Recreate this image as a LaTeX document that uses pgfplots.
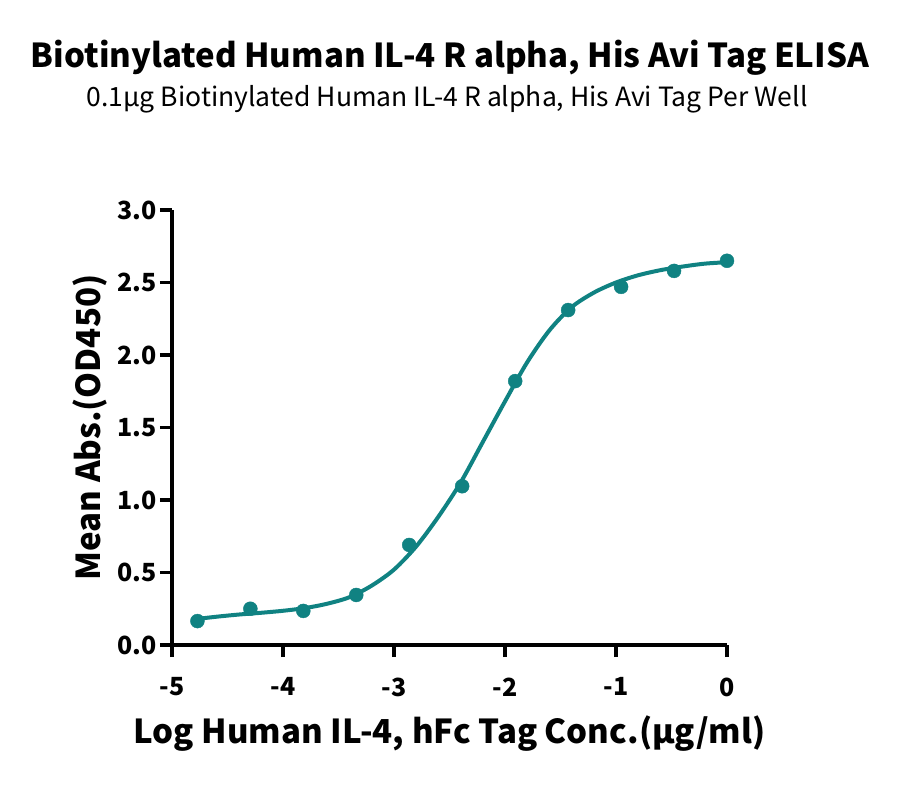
\documentclass[border=0pt]{standalone}
\usepackage{fontspec}
\setmainfont{Noto Sans CJK SC}
\usepackage{pgfplots}
\usepackage{pgfplotstable}
\pgfplotsset{compat=1.18}
\definecolor{tealc}{RGB}{16,130,130}

% measured points (log conc, OD450)
\pgfplotstableread{
x y
-4.771 0.165
-4.294 0.250
-3.817 0.235
-3.340 0.345
-2.863 0.690
-2.386 1.095
-1.908 1.820
-1.431 2.310
-0.954 2.470
-0.477 2.580
0.000 2.650
}\points

% fitted curve
\pgfplotstableread{
x y
-4.771 0.180
-4.6 0.195
-4.4 0.210
-4.2 0.222
-4.0 0.236
-3.8 0.255
-3.6 0.285
-3.4 0.330
-3.2 0.410
-3.0 0.520
-2.8 0.680
-2.6 0.885
-2.4 1.120
-2.2 1.400
-2.0 1.680
-1.8 1.950
-1.6 2.170
-1.4 2.330
-1.2 2.430
-1.0 2.500
-0.8 2.550
-0.6 2.585
-0.4 2.610
-0.2 2.630
0.0 2.640
}\fit

\begin{document}
\begin{tikzpicture}
\path[use as bounding box] (0,0) rectangle (900pt,-789pt);
\node[anchor=base, font=\bfseries\fontsize{33}{38}\selectfont] at (450pt,-68pt)
  {Biotinylated Human IL-4 R alpha, His Avi Tag ELISA};
\node[anchor=base, font=\fontsize{26.5}{30}\selectfont] at (447pt,-107pt)
  {0.1µg Biotinylated Human IL-4 R alpha, His Avi Tag Per Well};
\begin{axis}[
  at={(172pt,-645pt)}, anchor=south west,
  scale only axis, width=555pt, height=435pt,
  xmin=-5, xmax=0, ymin=0, ymax=3,
  axis lines*=left,
  axis line style={line width=3.5pt},
  xtick={-5,-4,-3,-2,-1,0},
  xticklabels={-5,-4,-3,-2,-1,0},
  ytick={0,0.5,1,1.5,2,2.5,3},
  yticklabels={0.0,0.5,1.0,1.5,2.0,2.5,3.0},
  tick align=outside,
  major tick length=12pt,
  every tick/.style={line width=3.5pt, black},
  major tick style={line width=3.5pt, black},
  ticklabel style={font=\bfseries\fontsize{25}{30}\selectfont},
  xticklabel style={yshift=-17pt},
  xlabel={Log Human IL-4, hFc Tag Conc.(µg/ml)},
  ylabel={Mean Abs.(OD450)},
  label style={font=\bfseries\fontsize{33}{38}\selectfont},
  xlabel style={yshift=-12pt},
  ylabel style={yshift=3pt},
  clip=false,
]
\addplot[tealc, line width=4pt, smooth] table {\fit};
\addplot[only marks, mark=*, mark size=7pt, tealc] table {\points};
\end{axis}
\end{tikzpicture}
\end{document}
